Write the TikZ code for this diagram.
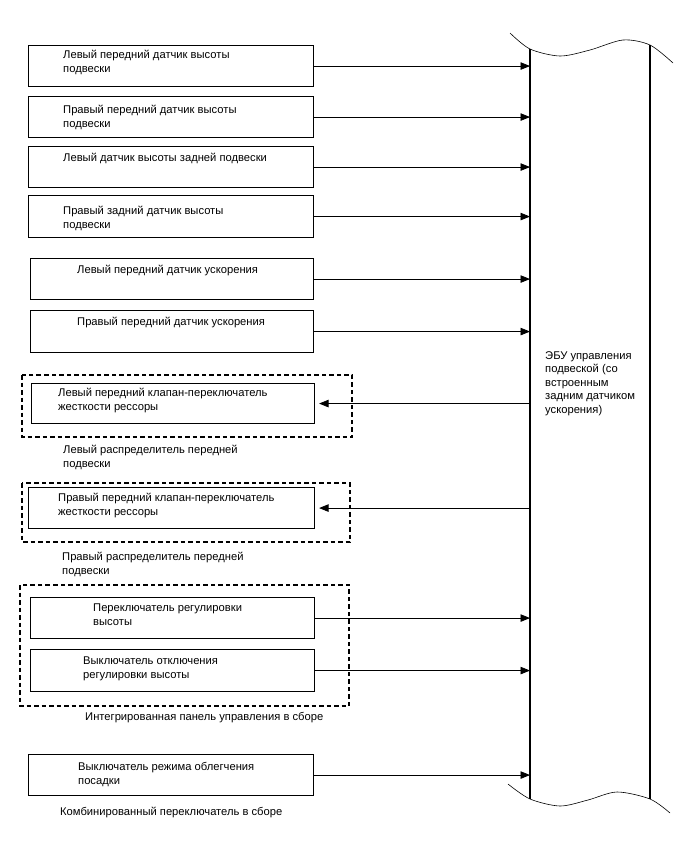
\documentclass[tikz,border=0pt]{standalone}
\usepackage{fontspec}
\setmainfont{Liberation Sans}
\usetikzlibrary{arrows.meta}

\begin{document}
\begin{tikzpicture}[x=1pt,y=-1pt,line width=0.4pt,
  box/.style={draw=black,line width=1.1pt,anchor=north west,inner sep=0pt,minimum width=285,minimum height=41},
  lbl/.style={anchor=north west,inner sep=0pt,align=left,font=\fdia},
  grp/.style={draw=black,line width=1.3pt,dash pattern=on 4.5pt off 3pt},
  conn/.style={draw=black,line width=0.8pt,-{Triangle[length=9.5pt,width=7.5pt]}}]
\providecommand{\fdia}{\fontsize{11.2}{13.6}\selectfont}
\useasboundingbox (0,0) rectangle (688,852);
% ECU
\draw[line width=0.6pt] plot[smooth] coordinates {(510,33) (530,49) (560,56) (590,50) (623,40) (650,45) (673,63)};
\draw[line width=0.6pt] plot[smooth] coordinates {(508,784) (530,799) (560,806) (588,800) (617,792) (650,799) (670,813)};
\draw[line width=1.1pt] (530,49) -- (530,799);
\draw[line width=1.1pt] (650,45) -- (650,799);
\coordinate (ecu) at (530,400);
\node[lbl] (ecut) at (545,351) {ЭБУ управления\\подвеской (со\\встроенным\\задним датчиком\\ускорения)};
% sensors
\node[box] (s1) at (28,45) {};
\node[lbl] (s1t) at (63,50) {Левый передний датчик высоты\\подвески};
\node[box] (s2) at (28,96) {};
\node[lbl] (s2t) at (63,105) {Правый передний датчик высоты\\подвески};
\node[box] (s3) at (28,146) {};
\node[lbl] (s3t) at (63,153) {Левый датчик высоты задней подвески};
\node[box,minimum height=42] (s4) at (28,195) {};
\node[lbl] (s4t) at (63,206) {Правый задний датчик высоты\\подвески};
\node[box,minimum width=283] (s5) at (30,258) {};
\node[lbl] (s5t) at (77,265) {Левый передний датчик ускорения};
\node[box,minimum width=283,minimum height=42] (s6) at (30,310) {};
\node[lbl] (s6t) at (77,317) {Правый передний датчик ускорения};
% valves
\draw[grp] (22,375) rectangle (352,437);
\node[box,minimum width=283,minimum height=40] (v1) at (31,383) {};
\node[lbl] (v1t) at (58,388) {Левый передний клапан-переключатель\\жесткости рессоры};
\node[lbl] (d1t) at (63,445) {Левый распределитель передней\\подвески};
\draw[grp] (22,483) rectangle (350,542);
\node[box,minimum width=286] (v2) at (28,487) {};
\node[lbl] (v2t) at (58,493) {Правый передний клапан-переключатель\\жесткости рессоры};
\node[lbl] (d2t) at (62,552) {Правый распределитель передней\\подвески};
% switches
\draw[grp] (20,585) rectangle (349,706);
\node[box,minimum width=284] (h1) at (30,597) {};
\node[lbl] (h1t) at (93,604) {Переключатель регулировки\\высоты};
\node[box,minimum width=284,minimum height=42] (h2) at (30,649) {};
\node[lbl] (h2t) at (83,657) {Выключатель отключения\\регулировки высоты};
\node[lbl] (d3t) at (85,712) {Интегрированная панель управления в сборе};
\node[box] (m1) at (28,754) {};
\node[lbl] (m1t) at (78,762) {Выключатель режима облегчения\\посадки};
\node[lbl] (d4t) at (60,807) {Комбинированный переключатель в сборе};
% connections
\foreach \n in {s1,s2,s3,s4,s5,s6,h1,h2,m1}
  \draw[conn] (\n) -- (\n -| ecu);
\foreach \n in {v1,v2}
  \draw[conn,shorten >=4pt] (\n -| ecu) -- (\n);
\end{tikzpicture}
\end{document}
